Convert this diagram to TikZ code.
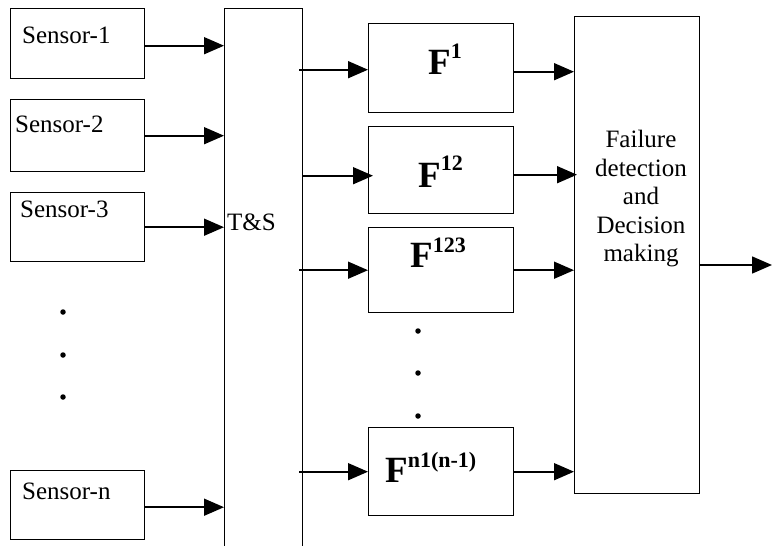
\documentclass[tikz,border=0pt]{standalone}
\usepackage{fontspec}
\setmainfont{Liberation Serif}
\usetikzlibrary{arrows.meta}
\newcommand{\supfs}[2][16pt]{\raisebox{#1}{\fontsize{22}{22}\selectfont #2}}
\begin{document}
\begin{tikzpicture}[x=1pt,y=-1pt,
  box/.style={draw, line width=1.4pt, inner sep=0pt, anchor=north west},
  arr/.style={line width=1.6pt, -{Triangle[length=20pt,width=17pt]}},
  lbl/.style={inner sep=0pt, anchor=base west, font=\fontsize{25}{30}\selectfont},
  flbl/.style={inner sep=0pt, anchor=base west, font=\bfseries\fontsize{37}{37}\selectfont},
  vdot/.style={circle, fill, inner sep=0pt, minimum size=5.5pt}]
\useasboundingbox (0,0) rectangle (772,546);
\clip (0,0) rectangle (772,546);

% sensor boxes
\node[box, minimum width=134pt, minimum height=70pt] (s1) at (10,8) {};
\node[box, minimum width=134pt, minimum height=72pt] (s2) at (10,99) {};
\node[box, minimum width=134pt, minimum height=69pt] (s3) at (10,192) {};
\node[box, minimum width=134pt, minimum height=69pt] (sn) at (10,470) {};
\node[lbl] (l1) at (22,43) {Sensor-1};
\node[lbl] (l2) at (15,132) {Sensor-2};
\node[lbl] (l3) at (20,217) {Sensor-3};
\node[lbl] (ln) at (22,499) {Sensor-n};
\node[vdot] (d1) at (63,312) {};
\node[vdot] (d2) at (63,355) {};
\node[vdot] (d3) at (63,397) {};

% transform & synchronisation block (runs off the bottom edge)
\node[box, minimum width=78pt, minimum height=570pt] (ts) at (224,8) {};
\node[lbl] (lts) at (227,230) {T\&S};

% filter blocks
\node[box, minimum width=145pt, minimum height=89pt] (f1) at (368,23) {};
\node[box, minimum width=145pt, minimum height=87pt] (f12) at (368,126) {};
\node[box, minimum width=145pt, minimum height=85pt] (f123) at (368,227) {};
\node[box, minimum width=145pt, minimum height=88pt] (fn) at (368,427) {};
\node[flbl] (lf1) at (428,74) {F\supfs{1}};
\node[flbl] (lf12) at (418,187) {F\supfs[17pt]{12}};
\node[flbl] (lf123) at (410,267) {F\supfs[15pt]{123}};
\node[flbl] (lfn) at (385,482) {F\supfs[15pt]{n1(n-1)}};
\node[vdot] (e1) at (418,331) {};
\node[vdot] (e2) at (418,373) {};
\node[vdot] (e3) at (418,416) {};

% decision block
\node[box, minimum width=125pt, minimum height=477pt] (dec) at (574,16) {};
\node[inner sep=0pt, anchor=north, align=center, font=\fontsize{25}{28.5}\selectfont] (ldec) at (641,130)
  {Failure\\detection\\and\\Decision\\making};
\coordinate (out) at (772,265);

% connectors
\draw[arr] ([yshift=-2pt]s1.east) -- ([yshift=-2pt]s1.east -| ts.west);
\draw[arr] (s2.east) -- (s2.east -| ts.west);
\draw[arr] (s3.east) -- (s3.east -| ts.west);
\draw[arr] ([yshift=-2pt]sn.east) -- ([yshift=-2pt]sn.east -| ts.west);

\draw[arr] ([xshift=-4pt,yshift=-1.5pt]f1.west -| ts.east) -- ([yshift=-1.5pt]f1.west);
\draw[arr] ([xshift=-1pt,yshift=-5.5pt]f12.west -| ts.east) -- ([xshift=5pt,yshift=-5.5pt]f12.west);
\draw[arr] ([xshift=-4pt]f123.west -| ts.east) -- (f123.west);
\draw[arr] ([xshift=-4pt]fn.west -| ts.east) -- (fn.west);

\draw[arr] ([yshift=-3.5pt]f1.east) -- ([yshift=-3.5pt]f1.east -| dec.west);
\draw[arr] ([yshift=-4.5pt]f12.east) -- ([xshift=3pt,yshift=-4.5pt]f12.east -| dec.west);
\draw[arr] (f123.east) -- (f123.east -| dec.west);
\draw[arr] (fn.east) -- (fn.east -| dec.west);

\draw[arr] (dec.east |- out) -- (out);
\end{tikzpicture}
\end{document}
